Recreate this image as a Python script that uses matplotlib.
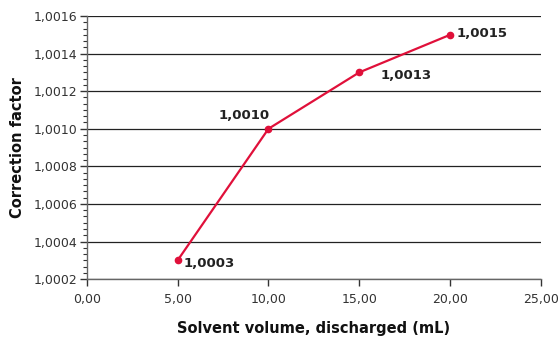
import matplotlib
matplotlib.use("Agg")
import matplotlib.pyplot as plt
from matplotlib.ticker import FixedLocator, AutoMinorLocator, FuncFormatter

volume = [5, 10, 15, 20]
factor = [1.0003, 1.0010, 1.0013, 1.0015]
labels = ["1,0003", "1,0010", "1,0013", "1,0015"]
x_ticks = [0, 5, 10, 15, 20, 25]
y_ticks = [1.0002, 1.0004, 1.0006, 1.0008, 1.0010, 1.0012, 1.0014, 1.0016]

plt.rcParams['font.family'] = ['DejaVu Sans']
fig = plt.figure(figsize=(5.6, 3.4), dpi=100)
ax = fig.add_axes([0.155, 0.179, 0.811, 0.774])

red = "#E0103A"
ax.plot(volume, factor, color=red, lw=1.6, marker="o", ms=4.5, zorder=3, clip_on=False)

offsets = [((6, -3), "left", "center"), ((-24, 13), "center", "center"),
           ((21, -3), "left", "center"), ((6, 1), "left", "center")]
for x, y, t, (off, ha, va) in zip(volume, factor, labels, offsets):
    ax.annotate(t, (x, y), xytext=off, textcoords="offset pixels", ha=ha, va=va,
                fontsize=9.5, fontweight="bold", color="#222222")

ax.set_xlim(0, 25)
ax.set_ylim(1.0002, 1.0016)
ax.xaxis.set_major_locator(FixedLocator(x_ticks))
ax.yaxis.set_major_locator(FixedLocator(y_ticks))
ax.yaxis.set_minor_locator(AutoMinorLocator(6))
ax.xaxis.set_major_formatter(FuncFormatter(lambda v, p: f"{v:.2f}".replace(".", ",")))
ax.yaxis.set_major_formatter(FuncFormatter(lambda v, p: f"{v:.4f}".replace(".", ",")))

ax.grid(axis="y", color="#222222", lw=0.9)
ax.set_axisbelow(True)
for s in ["top", "right"]:
    ax.spines[s].set_visible(False)
for s in ["left", "bottom"]:
    ax.spines[s].set_color("#666666")
    ax.spines[s].set_linewidth(1.0)

ax.tick_params(axis="both", which="major", labelsize=9, colors="#333333", length=5, width=1.0, pad=2)
ax.tick_params(axis="y", which="minor", length=3, width=0.8, colors="#333333")
ax.tick_params(axis="x", pad=5)

ax.set_xlabel("Solvent volume, discharged (mL)", fontsize=10.5, fontweight="bold", color="#111111", labelpad=11)
ax.set_ylabel("Correction factor", fontsize=10.5, fontweight="bold", color="#111111", labelpad=6)

fig.savefig("out.png", dpi=100)
